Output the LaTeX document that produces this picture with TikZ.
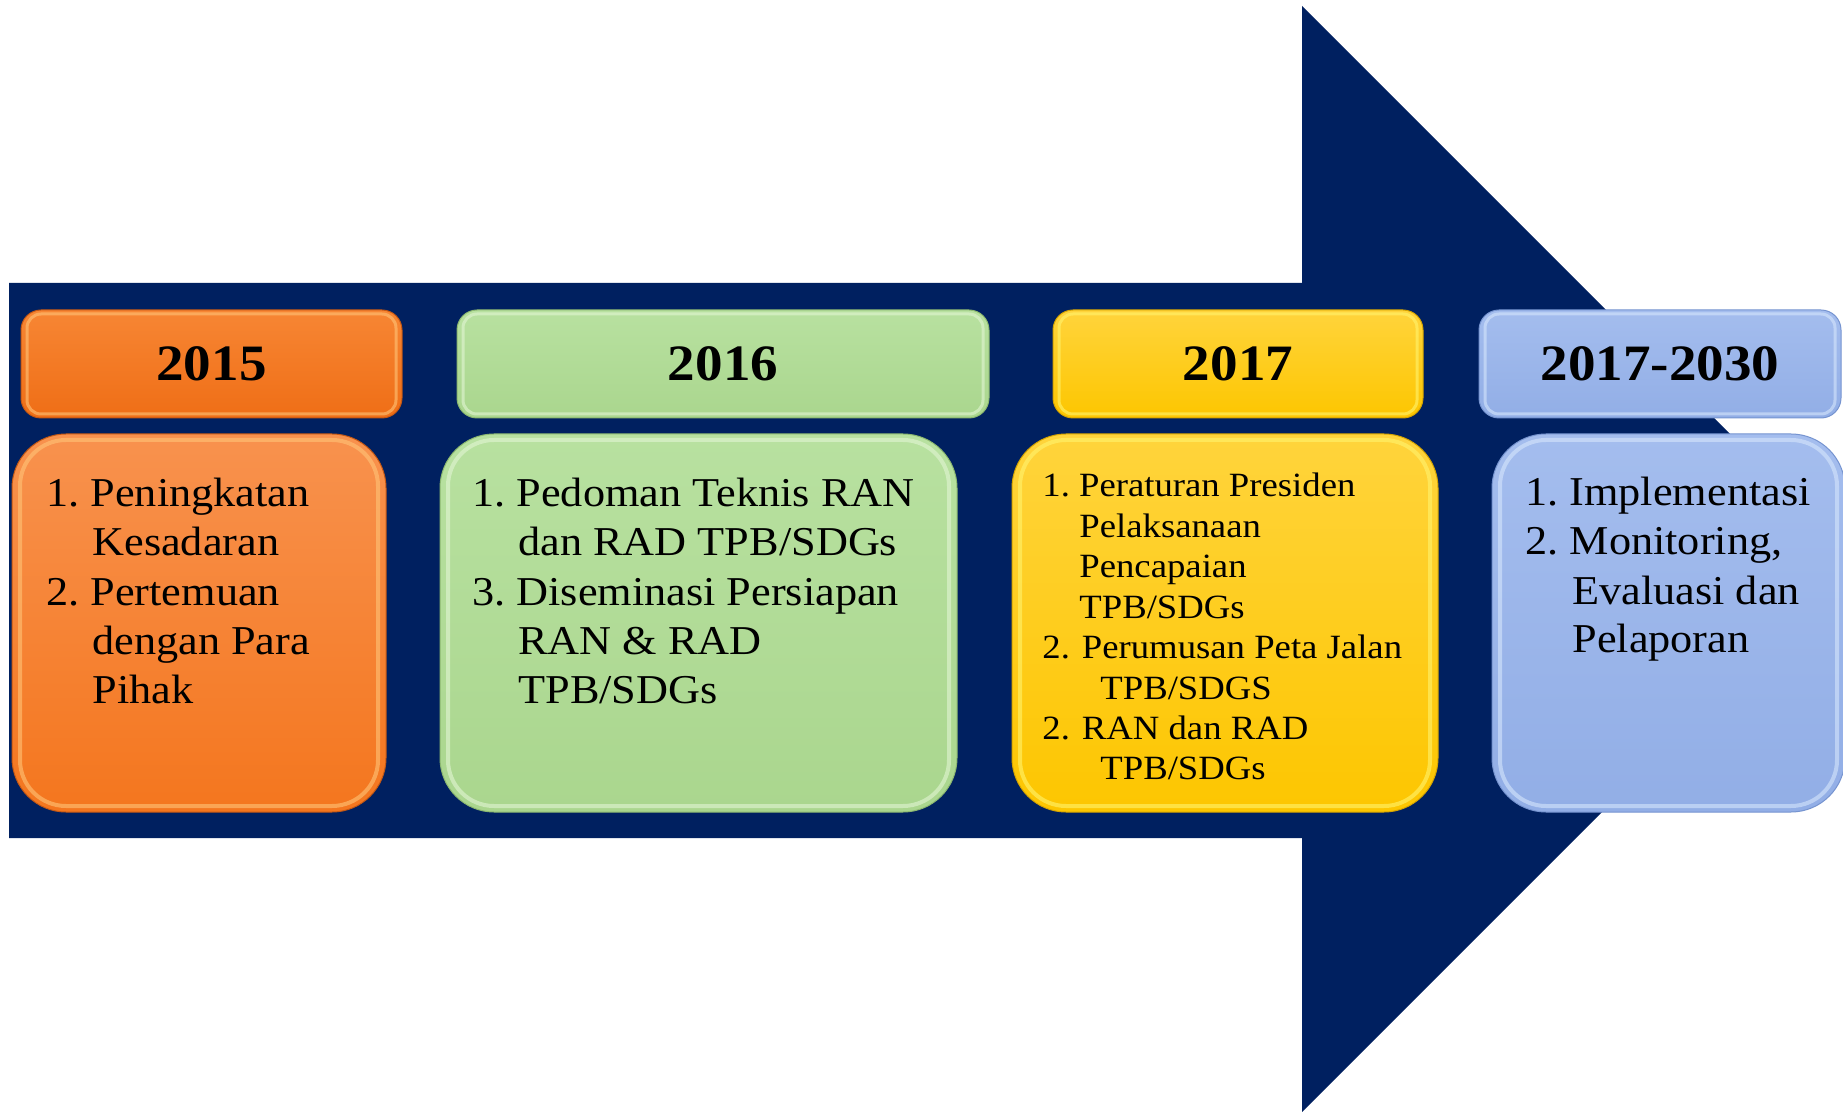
\documentclass[tikz,border=0pt]{standalone}
\usepackage{fontspec}
\setmainfont[FakeStretch=1.08]{Liberation Serif}
\frenchspacing
\newdimen\px \px=0.5pt
\definecolor{navy}{RGB}{0,32,96}
\definecolor{orgT}{RGB}{248,146,78}\definecolor{orgB}{RGB}{244,118,30}
\definecolor{orgH}{RGB}{247,134,52}\definecolor{orgHB}{RGB}{239,110,22}
\definecolor{orgD}{RGB}{196,88,20}\definecolor{orgR}{RGB}{255,196,120}
\definecolor{grnT}{RGB}{184,225,160}\definecolor{grnB}{RGB}{170,214,142}
\definecolor{grnD}{RGB}{140,184,112}\definecolor{grnR}{RGB}{226,245,212}
\definecolor{gldT}{RGB}{255,212,60}\definecolor{gldB}{RGB}{253,198,0}
\definecolor{gldD}{RGB}{214,164,0}\definecolor{gldR}{RGB}{255,244,110}
\definecolor{bluT}{RGB}{164,189,238}\definecolor{bluB}{RGB}{146,174,230}
\definecolor{bluD}{RGB}{118,148,208}\definecolor{bluR}{RGB}{214,230,252}
\tikzset{
  hdrbox/.style n args={4}{top color=#1,bottom color=#2,draw=#3,line width=1\px,
    rounded corners=10pt,inner sep=0pt,
    font=\fontsize{25.5pt}{30pt}\selectfont\bfseries,
    path picture={\draw[#4,line width=3\px,opacity=.6,rounded corners=7pt]
      ([shift={(3pt,-2pt)}]path picture bounding box.north west) rectangle
      ([shift={(-3pt,2pt)}]path picture bounding box.south east);}},
  bodybox/.style n args={4}{top color=#1,bottom color=#2,draw=#3,line width=1\px,
    rounded corners=27pt,inner sep=0pt,
    path picture={\draw[#4,line width=4\px,opacity=.6,rounded corners=23pt]
      ([shift={(4pt,-3pt)}]path picture bounding box.north west) rectangle
      ([shift={(-4pt,3pt)}]path picture bounding box.south east);}},
  bodytxt/.style={anchor=base west,inner sep=0pt,font=\fontsize{20.5pt}{24pt}\selectfont},
  smalltxt/.style={anchor=base west,inner sep=0pt,font=\fontsize{17pt}{20pt}\selectfont}
}
\begin{document}
\begin{tikzpicture}[x=0.5pt,y=-0.5pt]
\useasboundingbox[fill=white] (0,0) rectangle (1843,1112);
% big arrow
\fill[navy] (9,283) -- (1302,283) -- (1302,6) -- (1855,559) -- (1302,1112)
  -- (1302,838) -- (9,838) -- cycle;
% headers
\node[hdrbox={orgH}{orgHB}{orgD}{orgR},minimum width=381\px,minimum height=108\px]
  (h1) at (211.5,364) {2015};
\node[hdrbox={grnT}{grnB}{grnD}{grnR},minimum width=532\px,minimum height=108\px]
  (h2) at (723,364) {2016};
\node[hdrbox={gldT}{gldB}{gldD}{gldR},minimum width=370\px,minimum height=108\px]
  (h3) at (1238,364) {2017};
\node[hdrbox={bluT}{bluB}{bluD}{bluR},minimum width=362\px,minimum height=108\px]
  (h4) at (1660,364) {2017-2030};
% bodies
\node[bodybox={orgT}{orgB}{orgD}{orgR},minimum width=374\px,minimum height=378\px]
  (b1) at (199,623) {};
\node[bodybox={grnT}{grnB}{grnD}{grnR},minimum width=517\px,minimum height=378\px]
  (b2) at (698.5,623) {};
\node[bodybox={gldT}{gldB}{gldD}{gldR},minimum width=426\px,minimum height=378\px]
  (b3) at (1225,623) {};
\node[bodybox={bluT}{bluB}{bluD}{bluR},minimum width=353\px,minimum height=378\px]
  (b4) at (1668.5,623) {};
% texts
\foreach \xx/\txt [count=\i] in {46/{1. Peningkatan},92/{Kesadaran},46/{2. Pertemuan},92/{dengan Para},92/{Pihak}}
  \node[bodytxt] (ta\i) at (\xx,{507+(\i-1)*49}) {\txt};
\foreach \xx/\txt [count=\i] in {472/{1. Pedoman Teknis RAN},518/{dan RAD TPB/SDGs},472/{3. Diseminasi Persiapan},518/{RAN \& RAD},518/{TPB/SDGs}}
  \node[bodytxt] (tb\i) at (\xx,{507+(\i-1)*49}) {\txt};
\foreach \xx/\txt [count=\i] in {1042/{1. Peraturan Presiden},1079/{Pelaksanaan},1079/{Pencapaian},1079/{TPB/SDGs},1042/{2.\hspace{6pt}Perumusan Peta Jalan},1100/{TPB/SDGS},1042/{2.\hspace{6pt}RAN dan RAD},1100/{TPB/SDGs}}
  \node[smalltxt] (tc\i) at (\xx,{497+(\i-1)*40.4}) {\txt};
\foreach \xx/\txt [count=\i] in {1525/{1. Implementasi},1525/{2. Monitoring,},1572/{Evaluasi dan},1572/{Pelaporan}}
  \node[bodytxt] (td\i) at (\xx,{506+(\i-1)*49}) {\txt};
\end{tikzpicture}
\end{document}
